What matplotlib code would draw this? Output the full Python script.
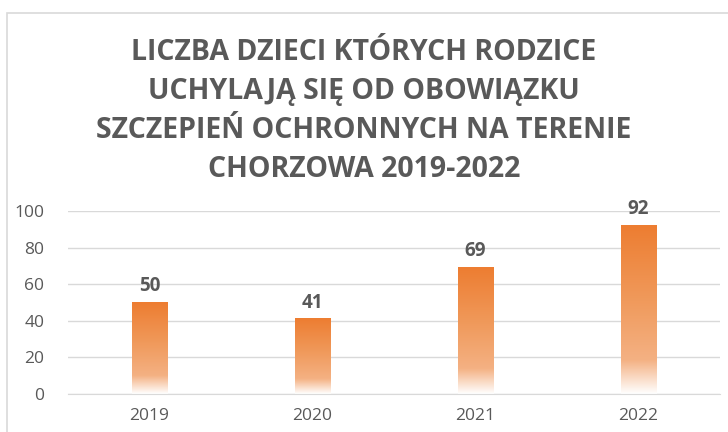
import numpy as np
import matplotlib.pyplot as plt
from matplotlib.colors import LinearSegmentedColormap
from matplotlib.patches import Rectangle

# Datos del gráfico
lata = ['2019', '2020', '2021', '2022']
liczba_dzieci = [50, 41, 69, 92]
tytul = ('LICZBA DZIECI KTÓRYCH RODZICE\nUCHYLAJĄ SIĘ OD OBOWIĄZKU\n'
         'SZCZEPIEŃ OCHRONNYCH NA TERENIE\nCHORZOWA 2019-2022')
yticks = [0, 20, 40, 60, 80, 100]

plt.rcParams['font.family'] = ['Open Sans', 'DejaVu Sans']
szary = '#595959'

fig = plt.figure(figsize=(7.28, 4.32), dpi=100)
ax = fig.add_axes([68 / 728, 1 - 394 / 432, 652 / 728, 183 / 432])

# Ramka wykresu
fig.patches.append(Rectangle((7 / 728, -0.1), 1.0, 1 - 13 / 432 + 0.1,
                             transform=fig.transFigure, fill=False,
                             edgecolor='#D9D9D9', linewidth=1.2))

# Gradient słupków: pomarańczowy u góry, biały u dołu
cmap = LinearSegmentedColormap.from_list(
    'grad', [(0.0, '#FFFFFF'), (0.2, '#F4B183'), (0.55, '#F09A5C'), (1.0, '#ED7D31')])
gradient = np.linspace(0, 1, 256).reshape(-1, 1)
szer = 0.22
for i, v in enumerate(liczba_dzieci):
    ax.imshow(gradient, extent=[i - szer / 2, i + szer / 2, 0, v], origin='lower',
              cmap=cmap, aspect='auto', zorder=2)
    ax.text(i, v + 3.5, str(v), ha='center', va='bottom', fontsize=13.5,
            fontweight='bold', color=szary, zorder=3)

ax.set_xlim(-0.5, 3.5)
ax.set_ylim(0, 100)
ax.set_xticks(range(len(lata)))
ax.set_xticklabels(lata)
ax.set_yticks(yticks)
ax.tick_params(axis='both', length=0, labelsize=12.5, colors=szary)
ax.tick_params(axis='x', pad=10)
ax.tick_params(axis='y', pad=17)
ax.grid(axis='y', color='#D9D9D9', linewidth=1)
ax.set_axisbelow(True)
for s in ['top', 'right', 'left']:
    ax.spines[s].set_visible(False)
ax.spines['bottom'].set_color('#D9D9D9')

fig.text(0.5, 1 - 111 / 432, tytul, ha='center', va='center', fontsize=20.5,
         fontweight='bold', color=szary, linespacing=1.45)

fig.savefig('out.png', dpi=100)
